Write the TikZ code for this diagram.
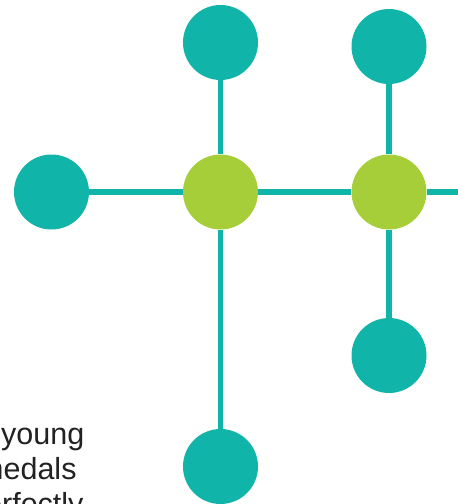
\documentclass[tikz,border=0pt]{standalone}
\usepackage{fontspec}
\setmainfont{Liberation Sans}
\usetikzlibrary{backgrounds}
\definecolor{tealc}{HTML}{10B4A9}
\definecolor{greenc}{HTML}{A6CE39}
\definecolor{textc}{HTML}{222222}
\begin{document}
\begin{tikzpicture}[x=1pt,y=-1pt,
  leaf/.style={circle,fill=tealc,minimum size=75pt,inner sep=0pt},
  hub/.style={circle,fill=greenc,minimum size=75pt,inner sep=0pt},
  link/.style={draw=tealc,line width=5.5pt},
  txt/.style={anchor=base west,inner sep=0pt,text=textc,font=\fontsize{30.5pt}{36pt}\selectfont}]
\useasboundingbox (0,0) rectangle (458,504);
\clip (0,0) rectangle (458,504);
\node[hub] (g1) at (220.5,192) {};
\node[hub] (g2) at (389,192) {};
\node[leaf] (t1) at (220.5,42.5) {};
\node[leaf] (t2) at (389,46.5) {};
\node[leaf] (l) at (51.5,192) {};
\node[leaf] (br) at (389,355.5) {};
\node[leaf] (b) at (220.5,466.5) {};
\coordinate (e) at (462,192);
\begin{scope}[on background layer]
\draw[link] (t1) -- (g1);
\draw[link] (t2) -- (g2);
\draw[link] (l) -- (g1);
\draw[link] (g1) -- (g2);
\draw[link] (g2) -- (e);
\draw[link] (g1) -- (b);
\draw[link] (g2) -- (br);
\end{scope}
\node[txt] (w1) at (1,444) {young};
\node[txt] (w2) at (-22,479) {medals};
\node[txt] (w3) at (-32,514) {perfectly};
\end{tikzpicture}
\end{document}
